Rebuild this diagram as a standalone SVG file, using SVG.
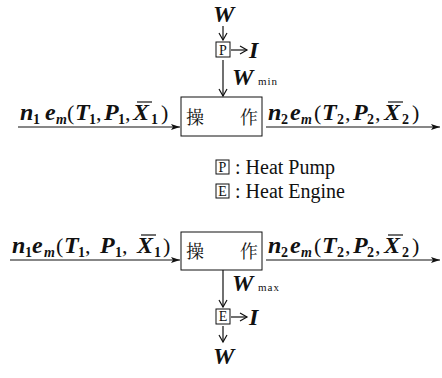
<svg xmlns="http://www.w3.org/2000/svg" width="442" height="378" viewBox="0 0 442 378">
<defs>
<marker id="ah" markerWidth="10" markerHeight="8" refX="9" refY="4" orient="auto" markerUnits="userSpaceOnUse">
<path d="M0,1 L9,4 L0,7 L2,4 Z" fill="#111"/>
</marker>
<marker id="av" markerWidth="10" markerHeight="10" refX="8" refY="5" orient="auto" markerUnits="userSpaceOnUse">
<path d="M1,1 L8,5 L1,9" fill="none" stroke="#111" stroke-width="1.2"/>
</marker>
</defs>
<style>
.m{font-weight:bold;font-style:italic;font-size:24px;fill:#111}
.s{font-weight:bold;font-size:14px;fill:#111}
.si{font-weight:bold;font-style:italic;font-size:14px;fill:#111}
.r{font-size:22px;fill:#111}
.sm{font-size:11px;letter-spacing:1px;fill:#111}
.lg{font-size:20px;fill:#111}
.bx{font-size:14px;fill:#111}
.cj{font-size:18px;fill:#111}
.ln{stroke:#111;stroke-width:1.2;fill:none}
.box{stroke:#111;stroke-width:1;fill:none}
</style>
<g id="connectors">
<line class="ln" x1="18" y1="127" x2="180" y2="127" marker-end="url(#ah)"/>
<line class="ln" x1="266" y1="127" x2="440" y2="127" marker-end="url(#ah)"/>
<line class="ln" x1="10" y1="260" x2="180" y2="260" marker-end="url(#ah)"/>
<line class="ln" x1="266" y1="260" x2="440" y2="260" marker-end="url(#ah)"/>
<line class="ln" x1="223" y1="26" x2="223" y2="40" marker-end="url(#av)"/>
<line class="ln" x1="231" y1="50" x2="247" y2="50" marker-end="url(#av)"/>
<line class="ln" x1="223" y1="60" x2="223" y2="96" marker-end="url(#av)"/>
<line class="ln" x1="223" y1="270" x2="223" y2="307" marker-end="url(#av)"/>
<line class="ln" x1="231" y1="317" x2="247" y2="317" marker-end="url(#av)"/>
<line class="ln" x1="223" y1="326" x2="223" y2="342" marker-end="url(#av)"/>
</g>
<g id="W-in">
<text class="m" font-family="Liberation Serif" x="213" y="22">W</text>
</g>
<g id="heat-pump-top">
<rect class="box" x="216" y="42" width="14" height="15"/>
<text class="bx" font-family="Liberation Serif" x="223" y="55" text-anchor="middle">P</text>
<text class="m" font-family="Liberation Serif" x="249" y="58">I</text>
</g>
<g id="W-min">
<text class="m" font-family="Liberation Serif" x="232" y="85">W</text>
<text class="sm" font-family="Liberation Serif" x="258" y="85">min</text>
</g>
<g id="op1">
<rect class="box" x="181" y="97" width="81" height="39"/>
<text class="cj" font-family="Noto Serif CJK JP" x="186" y="124">操</text>
<text class="cj" font-family="Noto Serif CJK JP" x="240" y="124">作</text>
</g>
<g id="in1">
<text class="m" font-family="Liberation Serif" x="20" y="120">n</text>
<text class="s" font-family="Liberation Serif" x="33" y="124">1</text>
<text class="m" font-family="Liberation Serif" x="45" y="120">e</text>
<text class="si" font-family="Liberation Serif" x="56" y="124">m</text>
<text class="r" font-family="Liberation Serif" x="67" y="120">(</text>
<text class="m" font-family="Liberation Serif" x="75" y="120">T</text>
<text class="s" font-family="Liberation Serif" x="89" y="124">1</text>
<text class="r" font-family="Liberation Serif" x="96" y="120">,</text>
<text class="m" font-family="Liberation Serif" x="104" y="120">P</text>
<text class="s" font-family="Liberation Serif" x="118" y="124">1</text>
<text class="r" font-family="Liberation Serif" x="125" y="120">,</text>
<text class="m" font-family="Liberation Serif" x="133" y="120">X</text>
<line class="ln" x1="137" y1="102" x2="152" y2="102"/>
<text class="s" font-family="Liberation Serif" x="151" y="124">1</text>
<text class="r" font-family="Liberation Serif" x="161" y="120">)</text>
</g>
<g id="out1">
<text class="m" font-family="Liberation Serif" x="268" y="120">n</text>
<text class="s" font-family="Liberation Serif" x="281" y="124">2</text>
<text class="m" font-family="Liberation Serif" x="290" y="120">e</text>
<text class="si" font-family="Liberation Serif" x="301" y="124">m</text>
<text class="r" font-family="Liberation Serif" x="314" y="120">(</text>
<text class="m" font-family="Liberation Serif" x="322" y="120">T</text>
<text class="s" font-family="Liberation Serif" x="337" y="124">2</text>
<text class="r" font-family="Liberation Serif" x="345" y="120">,</text>
<text class="m" font-family="Liberation Serif" x="353" y="120">P</text>
<text class="s" font-family="Liberation Serif" x="367" y="124">2</text>
<text class="r" font-family="Liberation Serif" x="375" y="120">,</text>
<text class="m" font-family="Liberation Serif" x="384" y="120">X</text>
<line class="ln" x1="388" y1="102" x2="403" y2="102"/>
<text class="s" font-family="Liberation Serif" x="402" y="124">2</text>
<text class="r" font-family="Liberation Serif" x="412" y="120">)</text>
</g>
<g id="legend">
<rect class="box" x="216" y="160" width="13" height="14"/>
<text class="bx" font-family="Liberation Serif" x="222.5" y="172" text-anchor="middle">P</text>
<text class="lg" font-family="Liberation Serif" x="235" y="174">: Heat  Pump</text>
<rect class="box" x="216" y="184" width="13" height="14"/>
<text class="bx" font-family="Liberation Serif" x="222.5" y="196" text-anchor="middle">E</text>
<text class="lg" font-family="Liberation Serif" x="235" y="198">: Heat  Engine</text>
</g>
<g id="in2">
<text class="m" font-family="Liberation Serif" x="12" y="253">n</text>
<text class="s" font-family="Liberation Serif" x="25" y="257">1</text>
<text class="m" font-family="Liberation Serif" x="32" y="253">e</text>
<text class="si" font-family="Liberation Serif" x="44" y="257">m</text>
<text class="r" font-family="Liberation Serif" x="56" y="253">(</text>
<text class="m" font-family="Liberation Serif" x="64" y="253">T</text>
<text class="s" font-family="Liberation Serif" x="78" y="257">1</text>
<text class="r" font-family="Liberation Serif" x="85" y="253">,</text>
<text class="m" font-family="Liberation Serif" x="100" y="253">P</text>
<text class="s" font-family="Liberation Serif" x="115" y="257">1</text>
<text class="r" font-family="Liberation Serif" x="122" y="253">,</text>
<text class="m" font-family="Liberation Serif" x="137" y="253">X</text>
<line class="ln" x1="141" y1="235" x2="156" y2="235"/>
<text class="s" font-family="Liberation Serif" x="154" y="257">1</text>
<text class="r" font-family="Liberation Serif" x="163" y="253">)</text>
</g>
<g id="op2">
<rect class="box" x="181" y="232" width="81" height="38"/>
<text class="cj" font-family="Noto Serif CJK JP" x="186" y="258">操</text>
<text class="cj" font-family="Noto Serif CJK JP" x="240" y="258">作</text>
</g>
<g id="out2">
<text class="m" font-family="Liberation Serif" x="268" y="253">n</text>
<text class="s" font-family="Liberation Serif" x="281" y="257">2</text>
<text class="m" font-family="Liberation Serif" x="290" y="253">e</text>
<text class="si" font-family="Liberation Serif" x="301" y="257">m</text>
<text class="r" font-family="Liberation Serif" x="314" y="253">(</text>
<text class="m" font-family="Liberation Serif" x="322" y="253">T</text>
<text class="s" font-family="Liberation Serif" x="337" y="257">2</text>
<text class="r" font-family="Liberation Serif" x="345" y="253">,</text>
<text class="m" font-family="Liberation Serif" x="353" y="253">P</text>
<text class="s" font-family="Liberation Serif" x="367" y="257">2</text>
<text class="r" font-family="Liberation Serif" x="375" y="253">,</text>
<text class="m" font-family="Liberation Serif" x="384" y="253">X</text>
<line class="ln" x1="388" y1="235" x2="403" y2="235"/>
<text class="s" font-family="Liberation Serif" x="402" y="257">2</text>
<text class="r" font-family="Liberation Serif" x="412" y="253">)</text>
</g>
<g id="W-max">
<text class="m" font-family="Liberation Serif" x="232" y="291">W</text>
<text class="sm" font-family="Liberation Serif" x="258" y="291">max</text>
</g>
<g id="heat-engine-bottom">
<rect class="box" x="216" y="309" width="14" height="15"/>
<text class="bx" font-family="Liberation Serif" x="223" y="321" text-anchor="middle">E</text>
<text class="m" font-family="Liberation Serif" x="249" y="325">I</text>
</g>
<g id="W-out">
<text class="m" font-family="Liberation Serif" x="213" y="364">W</text>
</g>
</svg>
